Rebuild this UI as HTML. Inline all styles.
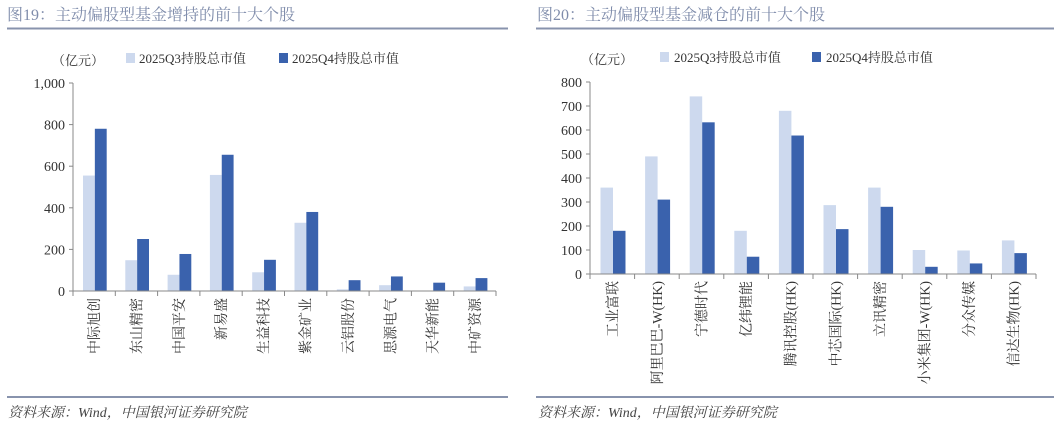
<!DOCTYPE html>
<html><head><meta charset="utf-8"><style>
body{margin:0;background:#fff;}
svg{display:block;}
text{font-family:"Liberation Serif","Noto Serif CJK SC",serif;}
</style></head><body>
<svg width="1061" height="424" viewBox="0 0 1061 424" xmlns="http://www.w3.org/2000/svg">
<g fill="#7f8cab" font-size="16">
<text x="7" y="20" font-family="Liberation Sans, Noto Sans CJK SC, sans-serif">图19：主动偏股型基金增持的前十大个股</text>
<text x="537" y="20" font-family="Liberation Sans, Noto Sans CJK SC, sans-serif">图20：主动偏股型基金减仓的前十大个股</text>
</g>
<rect x="7" y="27.5" width="501" height="2" fill="#8893ad"/>
<rect x="536" y="27.5" width="518" height="2" fill="#8893ad"/>
<rect x="7" y="396" width="501" height="2" fill="#8893ad"/>
<rect x="536" y="396" width="518" height="2" fill="#8893ad"/>
<g fill="#444" font-size="14" font-style="italic" font-family="Liberation Serif, Noto Serif CJK SC, serif">
<text x="8" y="417">资料来源：Wind，中国银河证券研究院</text>
<text x="538" y="417">资料来源：Wind，中国银河证券研究院</text>
</g>
<g font-size="13" fill="#333">
<text x="52" y="65">（亿元）</text>
<rect x="126" y="53" width="9" height="10" fill="#cdd9ee"/><text x="139" y="63">2025Q3持股总市值</text>
<rect x="279" y="53" width="9" height="10" fill="#3a62ad"/><text x="292" y="63">2025Q4持股总市值</text>
<text x="581" y="64">（亿元）</text>
<rect x="660" y="52" width="9" height="10" fill="#cdd9ee"/><text x="674" y="62">2025Q3持股总市值</text>
<rect x="812" y="52" width="9" height="10" fill="#3a62ad"/><text x="826" y="62">2025Q4持股总市值</text>
</g>
<g id="L"></g>
<g id="R"></g>
</svg>
<script>
function chart(id,x0,x1,y0,ytop,max,step,q3,q4,labels,fmt){
 var g=document.getElementById(id),s='';var n=q3.length,cw=(x1-x0)/n,k=(y0-ytop)/max;
 s+='<line x1="'+x0+'" y1="'+ytop+'" x2="'+x0+'" y2="'+y0+'" stroke="#888" stroke-width="1"/>';
 for(var v=0;v<=max;v+=step){var y=y0-v*k;s+='<line x1="'+(x0-4)+'" y1="'+y+'" x2="'+x0+'" y2="'+y+'" stroke="#888"/>';
 s+='<text x="'+(x0-8)+'" y="'+(y+5)+'" text-anchor="end" font-size="14" fill="#333">'+fmt(v)+'</text>';}
 for(var i=0;i<n;i++){var cx=x0+cw*i+cw/2,bw=cw*0.28;
 s+='<rect x="'+(cx-bw+0.7)+'" y="'+(y0-q3[i]*k)+'" width="'+bw+'" height="'+(q3[i]*k)+'" fill="#cdd9ee"/>';
 s+='<rect x="'+(cx+0.7)+'" y="'+(y0-q4[i]*k)+'" width="'+bw+'" height="'+(q4[i]*k)+'" fill="#3a62ad"/>';
 s+='<text transform="translate('+(cx+5)+','+(y0+7)+') rotate(-90)" text-anchor="end" font-size="14" fill="#333">'+labels[i]+'</text>';}
 s+='<line x1="'+x0+'" y1="'+y0+'" x2="'+x1+'" y2="'+y0+'" stroke="#888"/>';
 for(var i=0;i<=n;i++){var x=x0+cw*i;s+='<line x1="'+x+'" y1="'+y0+'" x2="'+x+'" y2="'+(y0+5)+'" stroke="#888"/>';}
 g.innerHTML=s;}
chart('L',73,496,291,83,1000,200,[555,148,78,558,90,328,8,28,0,22],[780,250,178,655,150,380,52,70,40,62],
 ['中际旭创','东山精密','中国平安','新易盛','生益科技','紫金矿业','云铝股份','思源电气','天华新能','中矿资源'],
 function(v){return v==1000?'1,000':v;});
chart('R',590,1036,274,82,800,100,[360,490,740,180,680,287,360,100,98,140],[180,310,632,72,577,187,280,30,44,87],
 ['工业富联','阿里巴巴-W(HK)','宁德时代','亿纬锂能','腾讯控股(HK)','中芯国际(HK)','立讯精密','小米集团-W(HK)','分众传媒','信达生物(HK)'],
 function(v){return v;});
</script>
</body></html>
